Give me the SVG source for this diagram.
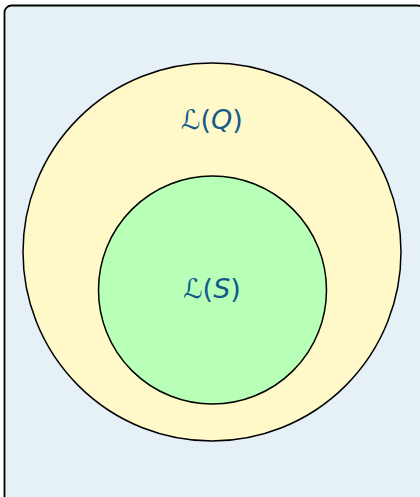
<svg xmlns="http://www.w3.org/2000/svg" width="420" height="497" viewBox="0 0 420 497">
<style>
.c{stroke:#000;stroke-width:1.5}
.t{font-family:"DejaVu Sans",sans-serif;font-size:27px;fill:#15598a;text-anchor:middle}
</style>
<g id="background"><rect x="4.5" y="5.5" width="420" height="500" rx="7" fill="#e6f0f7" stroke="#000" stroke-width="1.8"/></g>
<g id="LQ"><circle class="c" cx="212" cy="252" r="189" fill="#fff9c9"/><text class="t" x="212" y="129">ℒ(<tspan font-style="italic">Q</tspan>)</text></g>
<g id="LS"><circle class="c" cx="212.5" cy="290" r="114" fill="#b8ffb8"/><text class="t" x="212" y="298">ℒ(<tspan font-style="italic">S</tspan>)</text></g>
<g id="connectors"/>
</svg>
